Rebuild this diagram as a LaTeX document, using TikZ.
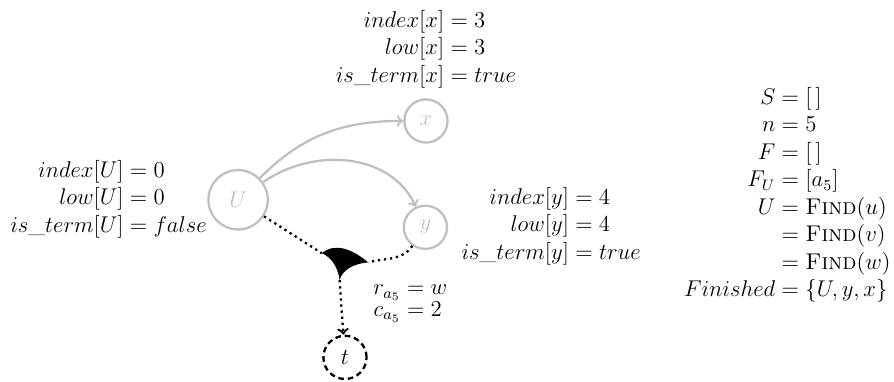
\documentclass[tikz,border=0pt]{standalone}
\usepackage{amsmath,amssymb}
\usepackage{tikz}

\begin{document}
\begin{tikzpicture}[every node/.style={font=\fontsize{12}{14.5}\selectfont},
	vertex/.style={draw=black!25, text=black!25, circle, line width=1.2pt, minimum size=8mm, inner sep=0pt},
	light/.style={black!25, line width=1.2pt, ->},
	hyper/.style={black, line width=1.2pt, dotted}]
	\useasboundingbox (0,0) rectangle (16.56,-7.06);
	\node[vertex, minimum size=11mm] (U) at (4.41,-3.70) {$U$};
	\node[vertex] (x) at (7.89,-2.24) {$x$};
	\node[vertex] (y) at (7.88,-4.21) {$y$};
	\node[vertex, draw=black, text=black, dashed, dash pattern=on 3pt off 2pt] (t) at (6.39,-6.62) {$t$};
	\coordinate (a5l) at (5.96,-4.69);
	\coordinate (a5r) at (6.82,-4.86);
	\coordinate (a5b) at (6.29,-5.19);
	\draw[light] (U) to[out=45, in=180] (x);
	\draw[light] (U) to[out=35, in=115] (y);
	\draw[hyper] (U) -- (a5l);
	\draw[hyper] (y) to[out=-125, in=15] (a5r);
	\draw[hyper, ->] (a5b) -- (t);
	\fill (a5l) .. controls +(0.25,0.2) and +(-0.3,0.25) .. (a5r) .. controls +(-0.25,-0.02) and +(0.05,0.2) .. (a5b) .. controls +(-0.02,0.2) and +(0.2,-0.08) .. (a5l);
	\node (xinfo) at (7.89,-0.91) {$\begin{array}{@{}r@{}l@{}} index[x] &{}= 3\\ low[x] &{}= 3\\ is\_term[x] &{}= true \end{array}$};
	\node (Uinfo) at (2.01,-3.69) {$\begin{array}{@{}r@{}l@{}} index[U] &{}= 0\\ low[U] &{}= 0\\ is\_term[U] &{}= false \end{array}$};
	\node (yinfo) at (10.21,-4.19) {$\begin{array}{@{}r@{}l@{}} index[y] &{}= 4\\ low[y] &{}= 4\\ is\_term[y] &{}= true \end{array}$};
	\node (a5info) at (7.60,-5.56) {$\begin{array}{@{}r@{}l@{}} r_{a_5} &{}= w\\[-3pt] c_{a_5} &{}= 2 \end{array}$};
	\node[anchor=east] (state) at (16.62,-3.61) {$\begin{array}{@{}r@{}l@{}} S &{}= [\,]\\ n &{}= 5\\ F &{}= [\,]\\ F_U &{}= [a_5]\\ U &{}= \textsc{Find}(u)\\ &{}= \textsc{Find}(v)\\ &{}= \textsc{Find}(w)\\ Finished &{}= \{U,y,x\} \end{array}$};
\end{tikzpicture}
\end{document}
